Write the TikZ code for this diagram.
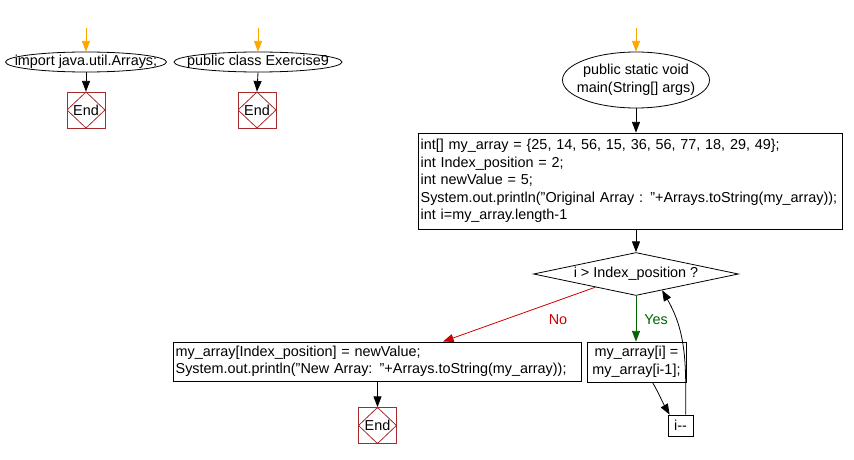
\documentclass[tikz,border=0pt]{standalone}
\usepackage{fontspec}
\setmainfont{Liberation Sans}
\usetikzlibrary{shapes.geometric,arrows.meta}
\definecolor{endred}{HTML}{A52A2A}
\definecolor{orangeA}{HTML}{FFA500}
\definecolor{noRed}{HTML}{CC0000}
\definecolor{yesGreen}{HTML}{006400}
\begin{document}
\begin{tikzpicture}[x=0.75pt,y=-0.75pt, line width=0.6pt,
  every node/.style={font=\fontsize{10.8}{13.1}\selectfont, inner sep=0pt},
  arr/.style={draw=black, -{Triangle[length=8pt,width=6pt]}},
  startarr/.style={draw=orangeA, -{Triangle[length=8pt,width=6pt]}},
  ellipsebox/.style={rectangle, draw=none, align=center},
  endbox/.style={rectangle, draw=endred, minimum width=28.5pt, minimum height=27pt,
    path picture={\draw[endred] (path picture bounding box.north) -- (path picture bounding box.west)
      -- (path picture bounding box.south) -- (path picture bounding box.east) -- cycle;}},
  codebox/.style={rectangle, draw, align=left, inner xsep=2pt},
  startpt/.style={coordinate}]
\useasboundingbox (0,0) rectangle (854,460);

% left two small flows
\coordinate (s1) at (86,28);
\node[ellipsebox, minimum width=120.75pt, minimum height=15pt] (e1) at (86,62) {import java.util.Arrays;};
\draw (e1.center) ellipse [x radius=80.5, y radius=10];
\node[endbox] (end1) at (86,110) {End};
\draw[startarr] (s1) -- (e1.north);
\draw[arr] (e1.south) -- (end1.north);

\coordinate (s2) at (258,28);
\node[ellipsebox, minimum width=126pt, minimum height=15pt] (e2) at (258,62) {public class Exercise9};
\draw (e2.center) ellipse [x radius=84, y radius=10];
\node[endbox] (end2) at (257,110) {End};
\draw[startarr] (s2) -- (e2.north);
\draw[arr] (e2.south) -- (end2.north);

% main flow
\coordinate (s3) at (636,28);
\node[ellipsebox, minimum width=110pt, minimum height=42pt] (e3) at (636,80) {public static void\\main(String[] args)};
\draw (e3.center) ellipse [x radius=73.5, y radius=28];
\draw[startarr] (s3) -- (e3.north);

\node[codebox, text width=314pt, minimum height=72pt] (init) at (630,181)
 {int[] my\_array = \{25, 14, 56, 15, 36, 56, 77, 18, 29, 49\};\\
  int Index\_position = 2;\\
  int newValue = 5;\\
  System.out.println("Original Array : "+Arrays.toString(my\_array));\\
  int i=my\_array.length-1};
\draw[arr] (e3.south) -- (init.north -| e3.south);

\node[diamond, draw, aspect=4.77, minimum width=153.75pt, minimum height=32.25pt] (cond) at (636,274) {i > Index\_position ?};
\draw[arr] (init.south -| cond.north) -- (cond.north);

\node[codebox, text width=302pt, minimum height=29.25pt] (set) at (377,361.5)
 {my\_array[Index\_position] = newValue;\\
  System.out.println("New Array: "+Arrays.toString(my\_array));};
\node[rectangle, draw, align=center, minimum width=74.25pt, minimum height=30pt] (assign) at (636.5,362)
 {my\_array[i] =\\my\_array[i-1];};
\node[rectangle, draw, minimum width=18.75pt, minimum height=15.75pt] (dec) at (680.5,425.5) {i-{}-};
\node[endbox] (end3) at (377.5,425.5) {End};

\draw[arr, draw=noRed, noRed] (cond.-162) -- (set.north -| 443,0);
\node[text=noRed] (nolab) at (558,320) {No};
\draw[arr, draw=yesGreen, yesGreen] (cond.south) -- (assign.north -| cond.south);
\node[text=yesGreen] (yeslab) at (656,320) {Yes};

\draw[arr] (set.south -| end3.north) -- (end3.north);
\draw[arr] ([xshift=12pt]assign.south) to[out=-60,in=120] ([xshift=1.5pt]dec.north west);
\draw[arr] ([xshift=4pt]dec.north) to[out=90,in=-60] (cond.-32);
\end{tikzpicture}
\end{document}
